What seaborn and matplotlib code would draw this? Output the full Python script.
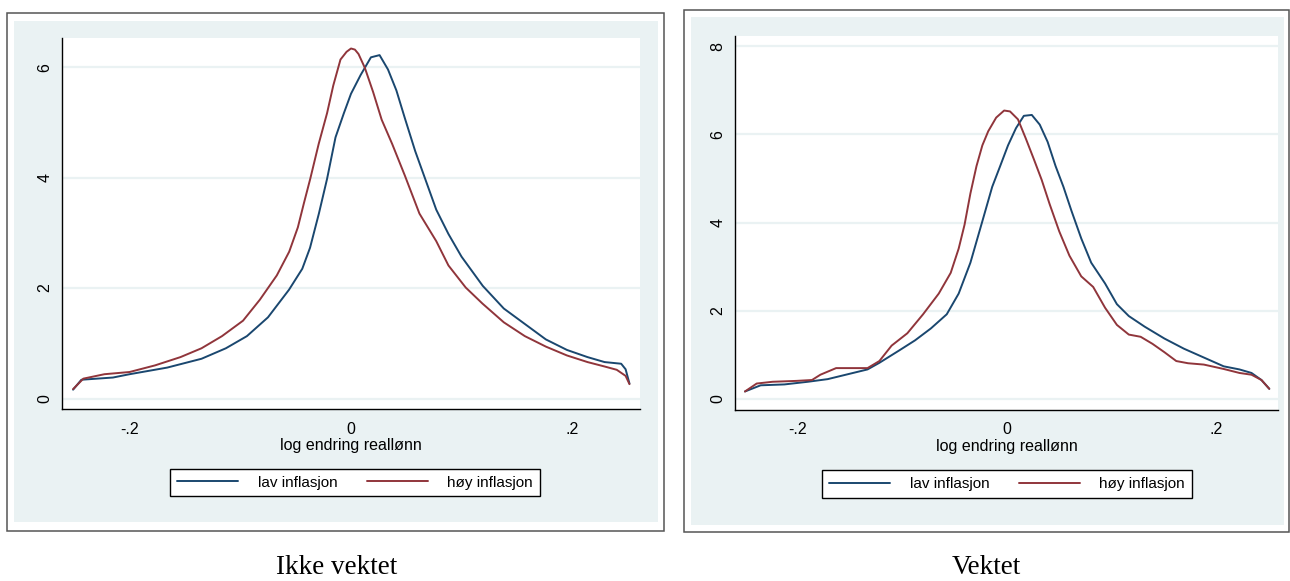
import numpy as np
import pandas as pd
import matplotlib
matplotlib.use("Agg")
import matplotlib.pyplot as plt
from matplotlib.patches import Rectangle
from matplotlib.lines import Line2D
import seaborn as sns

# ---- data: kernel density of log change in real wage ----
# Unweighted ("Ikke vektet")
uw_lav_x = [-0.251, -0.2435, -0.215, -0.200, -0.166, -0.135, -0.113, -0.094, -0.075, -0.056,
            -0.044, -0.037, -0.029, -0.0216, -0.014, -0.0064, 0.000, 0.0087, 0.018, 0.0258,
            0.0334, 0.041, 0.0486, 0.058, 0.0675, 0.077, 0.088, 0.0998, 0.119, 0.138,
            0.157, 0.176, 0.195, 0.2136, 0.229, 0.244, 0.248, 0.2515]
uw_lav_y = [0.16, 0.34, 0.38, 0.44, 0.56, 0.72, 0.91, 1.13, 1.47, 1.97,
            2.35, 2.73, 3.35, 3.98, 4.73, 5.17, 5.52, 5.86, 6.18, 6.22,
            5.96, 5.58, 5.08, 4.48, 3.95, 3.42, 2.98, 2.57, 2.04, 1.63,
            1.35, 1.07, 0.88, 0.75, 0.66, 0.63, 0.53, 0.27]
uw_hoy_x = [-0.251, -0.2417, -0.2227, -0.200, -0.177, -0.154, -0.135, -0.1165, -0.0975, -0.0823,
            -0.067, -0.0558, -0.048, -0.0425, -0.0368, -0.0292, -0.0216, -0.016, -0.0095, -0.004,
            0.000, 0.0035, 0.0068, 0.0125, 0.020, 0.0277, 0.0372, 0.0486, 0.0618, 0.077,
            0.088, 0.1036, 0.1187, 0.138, 0.157, 0.176, 0.195, 0.2136, 0.229, 0.240,
            0.248, 0.2515]
uw_hoy_y = [0.17, 0.36, 0.44, 0.48, 0.60, 0.75, 0.91, 1.13, 1.41, 1.79,
            2.23, 2.66, 3.10, 3.54, 3.98, 4.61, 5.17, 5.67, 6.14, 6.28,
            6.34, 6.32, 6.24, 5.99, 5.55, 5.05, 4.61, 4.04, 3.35, 2.85,
            2.41, 2.01, 1.72, 1.38, 1.13, 0.94, 0.78, 0.66, 0.58, 0.52,
            0.41, 0.26]

# Weighted ("Vektet")
w_lav_x = [-0.250, -0.235, -0.2123, -0.190, -0.171, -0.152, -0.133, -0.1217, -0.1028, -0.0876,
           -0.0725, -0.0574, -0.046, -0.0348, -0.0234, -0.014, -0.0064, 0.0011, 0.0087, 0.0162,
           0.0238, 0.0314, 0.0389, 0.0465, 0.054, 0.0616, 0.071, 0.0805, 0.0937, 0.105,
           0.1164, 0.1315, 0.1504, 0.169, 0.188, 0.207, 0.222, 0.2335, 0.243, 0.2505]
w_lav_y = [0.17, 0.31, 0.33, 0.39, 0.45, 0.56, 0.67, 0.82, 1.10, 1.33,
           1.60, 1.92, 2.39, 3.09, 4.03, 4.81, 5.28, 5.75, 6.14, 6.42,
           6.44, 6.22, 5.83, 5.28, 4.81, 4.27, 3.64, 3.09, 2.62, 2.15,
           1.88, 1.64, 1.37, 1.14, 0.94, 0.74, 0.67, 0.59, 0.43, 0.23]
w_hoy_x = [-0.250, -0.2388, -0.2236, -0.201, -0.186, -0.178, -0.163, -0.133, -0.1217, -0.110,
           -0.095, -0.080, -0.065, -0.0536, -0.046, -0.0404, -0.0348, -0.029, -0.0234, -0.0178,
           -0.0102, -0.0026, 0.003, 0.0106, 0.018, 0.0257, 0.0332, 0.0408, 0.050, 0.0597,
           0.071, 0.0824, 0.0937, 0.105, 0.1164, 0.1277, 0.139, 0.1504, 0.1617, 0.173,
           0.188, 0.207, 0.222, 0.2335, 0.243, 0.2505]
w_hoy_y = [0.17, 0.35, 0.39, 0.41, 0.43, 0.55, 0.70, 0.70, 0.86, 1.21,
           1.49, 1.92, 2.39, 2.86, 3.41, 3.95, 4.66, 5.28, 5.75, 6.07,
           6.38, 6.54, 6.52, 6.34, 5.91, 5.44, 4.97, 4.42, 3.80, 3.25,
           2.78, 2.54, 2.07, 1.68, 1.46, 1.41, 1.25, 1.06, 0.86, 0.81,
           0.78, 0.68, 0.59, 0.55, 0.43, 0.23]

series_names = ["lav inflasjon", "høy inflasjon"]
panel_titles = ["Ikke vektet", "Vektet"]
x_label = "log endring reallønn"
x_ticks = [-0.2, 0.0, 0.2]
x_tick_labels = ["-.2", "0", ".2"]
y_ticks_left = [0, 2, 4, 6]
y_ticks_right = [0, 2, 4, 6, 8]

# ---- styling ----
sns.set_theme(style="white")
plt.rcParams["font.family"] = ["Liberation Sans", "DejaVu Sans"]
plt.rcParams["text.color"] = "black"
plt.rcParams["axes.labelcolor"] = "black"

BLUE = "#1a476f"
RED = "#90353b"
BG = "#eaf2f3"
GRID = "#eaf2f3"
FRAME = "#555555"

W, H = 1290, 581
fig = plt.figure(figsize=(W / 100, H / 100), dpi=100)
fig.patch.set_facecolor("white")


def fig_rect(x0, y0, x1, y1, **kw):
    """Rectangle given in pixel coordinates measured from the top-left corner."""
    r = Rectangle((x0 / W, 1 - y1 / H), (x1 - x0) / W, (y1 - y0) / H,
                  transform=fig.transFigure, zorder=-10, **kw)
    fig.patches.append(r)


def axes_box(x0, y0, x1, y1):
    return [x0 / W, 1 - y1 / H, (x1 - x0) / W, (y1 - y0) / H]


# outer frames and shaded graph regions
fig_rect(7, 13, 664, 531, facecolor="white", edgecolor=FRAME, linewidth=1.1)
fig_rect(14, 21, 658, 522, facecolor=BG, edgecolor="none")
fig_rect(684, 10, 1289, 532, facecolor="white", edgecolor=FRAME, linewidth=1.1)
fig_rect(691, 17, 1284, 525, facecolor=BG, edgecolor="none")

panels = [
    dict(box=axes_box(62, 38, 640, 409), xlim=(-0.261, 0.261), ylim=(-0.19, 6.53),
         yticks=y_ticks_left,
         lav=(uw_lav_x, uw_lav_y), hoy=(uw_hoy_x, uw_hoy_y),
         legend_center=(355, 482.5), title_x=337),
    dict(box=axes_box(735, 36, 1278, 410), xlim=(-0.2595, 0.2588), ylim=(-0.25, 8.23),
         yticks=y_ticks_right,
         lav=(w_lav_x, w_lav_y), hoy=(w_hoy_x, w_hoy_y),
         legend_center=(1007, 484), title_x=986),
]

for p, title in zip(panels, panel_titles):
    ax = fig.add_axes(p["box"])
    ax.set_facecolor("white")
    frames = []
    for name, (xs, ys) in zip(series_names, [p["lav"], p["hoy"]]):
        frames.append(pd.DataFrame({"x": xs, "y": ys, "serie": name}))
    df = pd.concat(frames, ignore_index=True)

    for yv in p["yticks"]:
        ax.axhline(yv, color=GRID, linewidth=1.6, zorder=0)

    sns.lineplot(data=df, x="x", y="y", hue="serie", hue_order=series_names,
                 palette=[BLUE, RED], sort=False, estimator=None,
                 linewidth=1.4, legend=False, ax=ax)

    ax.set_xlim(*p["xlim"])
    ax.set_ylim(*p["ylim"])
    ax.set_xticks(x_ticks)
    ax.set_xticklabels(x_tick_labels)
    ax.set_yticks(p["yticks"])
    ax.set_yticklabels([str(v) for v in p["yticks"]], rotation=90, va="center")
    ax.set_xlabel(x_label, fontsize=11.5, labelpad=1, color="black")
    ax.set_ylabel("")
    ax.grid(False)
    for side in ["top", "right"]:
        ax.spines[side].set_visible(False)
    for side in ["left", "bottom"]:
        ax.spines[side].set_color("black")
        ax.spines[side].set_linewidth(1.0)
    ax.tick_params(axis="both", which="major", direction="out", length=5, width=0.8,
                   color="#333333", labelsize=11.5, labelcolor="black", pad=4)
    ax.tick_params(axis="y", pad=2)

    handles = [Line2D([], [], color=BLUE, linewidth=1.4),
               Line2D([], [], color=RED, linewidth=1.4)]
    cx, cy = p["legend_center"]
    leg = fig.legend(handles, series_names, loc="center",
                     bbox_to_anchor=(cx / W, 1 - cy / H), ncol=2,
                     frameon=True, fancybox=False, fontsize=11, framealpha=1,
                     handlelength=4.0, columnspacing=1.9, handletextpad=1.3,
                     borderpad=0.45)
    leg.get_frame().set_edgecolor("black")
    leg.get_frame().set_facecolor("white")
    leg.get_frame().set_linewidth(1.0)
    for t in leg.get_texts():
        t.set_color("black")

    fig.text(p["title_x"] / W, 1 - 567 / H, title, ha="center", va="center",
             fontsize=19.5, color="black", family=["Liberation Serif", "DejaVu Serif"])

fig.savefig("out.png", dpi=100, facecolor="white")
